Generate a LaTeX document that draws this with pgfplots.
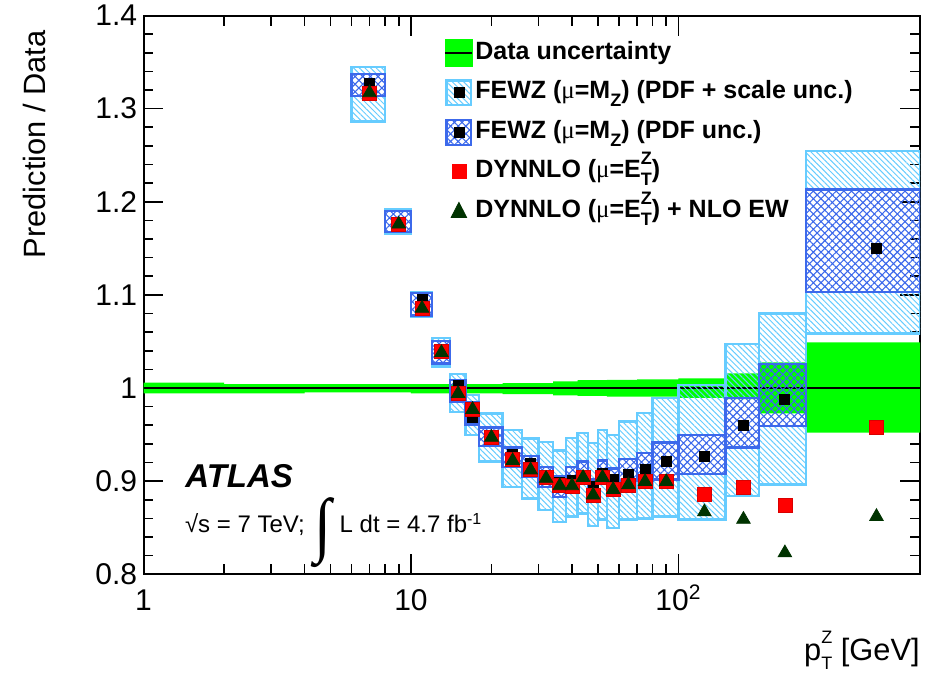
\documentclass[border=0pt]{standalone}
\usepackage{fontspec}
\setmainfont{Liberation Sans}
\newfontfamily\serifsym{Liberation Serif}
\usepackage{graphicx}
\usepackage{pgfplots}
\pgfplotsset{compat=1.18}
\usepackage{pgfplotstable}
\usepgfplotslibrary{fillbetween}
\usetikzlibrary{patterns.meta}

\definecolor{lblue}{RGB}{102,204,255}
\definecolor{dblue}{RGB}{60,105,235}
\definecolor{dgreen}{RGB}{0,51,0}
\definecolor{bandgreen}{RGB}{0,255,0}

\newcommand\lsub[1]{\raisebox{-0.6ex}{\fontsize{9}{9}\selectfont #1}}
\newcommand\lsupsub[2]{\rlap{\raisebox{1.0ex}{\fontsize{9}{9}\selectfont #1}}\raisebox{-0.6ex}{\fontsize{9}{9}\selectfont #2}}
\newcommand\umu{{\serifsym\mdseries μ}}

% FEWZ boxes: bin edges, PDF+scale band (llo,lhi), PDF band (dlo,dhi)
\pgfplotstableread{
xlo xhi llo lhi dlo dhi
6 8 1.286 1.345 1.3135 1.337
8 10 1.166 1.1915 1.1675 1.190
10 12 1.0765 1.103 1.078 1.102
12 14 1.023 1.054 1.0265 1.0505
14 16 0.974 1.015 0.985 1.0085
16 18 0.9495 0.9925 0.961 0.985
18 22 0.921 0.9725 0.9375 0.9575
22 26 0.894 0.955 0.915 0.936
26 30 0.8815 0.946 0.905 0.927
30 34 0.869 0.942 0.894 0.9155
34 38 0.856 0.933 0.883 0.9055
38 42 0.862 0.9465 0.896 0.9155
42 46 0.8655 0.952 0.8995 0.921
46 50 0.852 0.941 0.883 0.902
50 54 0.859 0.955 0.901 0.922
54 60 0.850 0.9495 0.894 0.9135
60 70 0.859 0.964 0.900 0.9235
70 80 0.860 0.9735 0.900 0.930
80 100 0.862 0.989 0.902 0.9415
100 150 0.859 1.003 0.9075 0.9495
150 200 0.884 1.047 0.936 0.9895
200 300 0.8965 1.080 0.959 1.0257
300 800 1.0586 1.2545 1.1032 1.213
}\boxes

% central values
\pgfplotstableread{
x fewz dyn dynew
7 1.327 1.317 1.317
9 1.178 1.1755 1.176
11 1.095 1.0855 1.0855
13 1.040 1.039 1.038
15 1.0031 0.9945 0.994
17 0.968 0.977 0.977
20 0.948 0.9475 0.947
24 0.929 0.923 0.922
28 0.919 0.9125 0.912
32 0.905 0.904 0.903
36 0.899 0.896 0.895
40 0.901 0.895 0.895
44 0.905 0.904 0.904
48 0.8944 0.885 0.885
52 0.908 0.904 0.904
57 0.902 0.8915 0.891
65 0.9075 0.896 0.896
75 0.9125 0.8995 0.8995
90 0.9215 0.8995 0.8995
125 0.927 0.886 0.867
175 0.960 0.893 0.859
250 0.9877 0.8745 0.823
550 1.1498 0.9577 0.862
}\points

% data uncertainty band (steps)
\pgfplotstableread{
x hi lo
1 1.0057 0.9942
2 1.0043 0.9942
4 1.0043 0.9953
10 1.0043 0.9942
22 1.0054 0.9936
34 1.0071 0.9921
42 1.0086 0.9915
54 1.0089 0.9907
70 1.0093 0.9907
100 1.0105 0.9895
150 1.0157 0.988
200 1.0275 0.9727
300 1.049 0.952
800 1.049 0.952
}\band

\pgfplotstablegetrowsof{\boxes}
\pgfmathtruncatemacro{\nb}{\pgfplotsretval-1}

\newcommand\getbox[1]{%
 \pgfplotstablegetelem{#1}{xlo}\of\boxes \let\xa\pgfplotsretval
 \pgfplotstablegetelem{#1}{xhi}\of\boxes \let\xb\pgfplotsretval
 \pgfplotstablegetelem{#1}{llo}\of\boxes \let\la\pgfplotsretval
 \pgfplotstablegetelem{#1}{lhi}\of\boxes \let\lb\pgfplotsretval
 \pgfplotstablegetelem{#1}{dlo}\of\boxes \let\da\pgfplotsretval
 \pgfplotstablegetelem{#1}{dhi}\of\boxes \let\db\pgfplotsretval}

\tikzset{
 lhatch/.style={draw=none, pattern={Lines[angle=-45,distance=2pt,line width=0.5pt]}, pattern color=lblue},
 lbox/.style={draw=lblue, line width=1.2pt, fill=none},
 dbox/.style={draw=dblue, line width=1.2pt, pattern={Hatch[angle=45,distance=2.7pt,line width=0.55pt]}, pattern color=dblue},
}

\begin{document}
\begin{tikzpicture}
\begin{axis}[
 scale only axis, width=388.25pt, height=279.4pt,
 xmode=log, xmin=1, xmax=800, ymin=0.8, ymax=1.4,
 xtick={1,10,100}, xticklabels={1,10,10\textsuperscript{2}},
 ytick={0.8,0.9,1,1.1,1.2,1.3,1.4}, yticklabels={0.8,0.9,1,1.1,1.2,1.3,1.4},
 minor y tick num=4,
 tick align=inside, major tick length=10pt, minor tick length=5pt,
 axis line style={line width=1pt}, tick style={line width=0.8pt, black},
 tick label style={font=\fontsize{15}{18}\selectfont},
 xticklabel style={anchor=base, yshift=-17.85pt, inner sep=0pt},
 yticklabel style={inner sep=0pt, xshift=-3pt},
 label style={font=\fontsize{15.4}{18}\selectfont},
 xlabel={p\lsupsub{Z}{T} [GeV]},
 xlabel style={at={(axis description cs:1,-0.1534)}, anchor=base east, inner sep=0pt},
 ylabel={Prediction / Data},
 ylabel style={at={(axis description cs:-0.1256,0.974)}, anchor=base east, inner sep=0pt},
 legend style={at={(axis description cs:0.387,0.958)}, anchor=north west, draw=none, fill=none,
   font=\fontsize{12.5}{15}\selectfont\bfseries, row sep=5.75pt, inner sep=0pt,
   nodes={inner sep=1pt, text height=9pt, text depth=3pt}},
 legend cell align=left,
]
\coordinate (O) at (rel axis cs:0,0);

% data uncertainty band
\addplot[name path=bu, const plot, draw=none, forget plot] table[x=x,y=hi]{\band};
\addplot[name path=bl, const plot, draw=none, forget plot] table[x=x,y=lo]{\band};
\addplot[bandgreen, forget plot] fill between[of=bu and bl];
\addplot[black, line width=0.9pt, forget plot] coordinates {(1,1) (800,1)};

% FEWZ PDF+scale hatch (outside the PDF band)
\pgfplotsforeachungrouped \i in {0,...,\nb}{%
 \getbox{\i}%
 \edef\temp{%
  \noexpand\addplot[forget plot, lhatch] coordinates {(\xa,\db) (\xb,\db) (\xb,\lb) (\xa,\lb)} -- cycle;
  \noexpand\addplot[forget plot, lhatch] coordinates {(\xa,\la) (\xb,\la) (\xb,\da) (\xa,\da)} -- cycle;
 }\temp
}
% FEWZ PDF+scale outlines
\pgfplotsforeachungrouped \i in {0,...,\nb}{%
 \getbox{\i}%
 \edef\temp{%
  \noexpand\addplot[forget plot, lbox] coordinates {(\xa,\la) (\xb,\la) (\xb,\lb) (\xa,\lb)} -- cycle;
 }\temp
}
% FEWZ PDF boxes
\pgfplotsforeachungrouped \i in {0,...,\nb}{%
 \getbox{\i}%
 \edef\temp{%
  \noexpand\addplot[forget plot, dbox] coordinates {(\xa,\da) (\xb,\da) (\xb,\db) (\xa,\db)} -- cycle;
 }\temp
}

% central values
\addplot[forget plot, only marks, mark=square*, mark size=2.5pt, black] table[x=x,y=fewz]{\points};
\addplot[forget plot, only marks, mark=square*, mark size=3.5pt, red, mark options={draw=red!85!black, line width=0.3pt}] table[x=x,y=dyn]{\points};
\addplot[forget plot, only marks, mark=triangle*, mark size=3.9pt, dgreen] table[x=x,y=dynew]{\points};

% legend
\addlegendimage{legend image code/.code={\fill[bandgreen] (0pt,-6.75pt) rectangle (13.5pt,6.75pt); \draw[black,line width=1pt] (0pt,0pt) -- (13.5pt,0pt);}}
\addlegendentry{Data uncertainty}
\addlegendimage{legend image code/.code={\draw[lblue,line width=1.2pt,pattern={Lines[angle=-45,distance=2pt,line width=0.5pt]},pattern color=lblue] (0.6pt,-6.2pt) rectangle (12.9pt,6.2pt); \fill[black] (4.25pt,-2.5pt) rectangle (9.25pt,2.5pt);}}
\addlegendentry{FEWZ (\umu=M\lsub{Z}) (PDF + scale unc.)}
\addlegendimage{legend image code/.code={\draw[dblue,line width=1.2pt,pattern={Hatch[angle=45,distance=2.7pt,line width=0.55pt]},pattern color=dblue] (0.6pt,-6.2pt) rectangle (12.9pt,6.2pt); \fill[black] (4.25pt,-2.5pt) rectangle (9.25pt,2.5pt);}}
\addlegendentry{FEWZ (\umu=M\lsub{Z}) (PDF unc.)}
\addlegendimage{legend image code/.code={\fill[red] (3.25pt,-3.5pt) rectangle (10.25pt,3.5pt);}}
\addlegendentry{DYNNLO (\umu=E\lsupsub{Z}{T})}
\addlegendimage{legend image code/.code={\fill[dgreen] (2.9pt,-3pt) -- (10.6pt,-3pt) -- (6.75pt,4.5pt) -- cycle;}}
\addlegendentry{DYNNLO (\umu=E\lsupsub{Z}{T}) + NLO EW}

\node[anchor=base west, inner sep=0pt, font=\fontsize{16.5}{20}\selectfont\bfseries\itshape] at (axis description cs:0.0534,0.155) {ATLAS};
\node[anchor=base west, inner sep=0pt, font=\fontsize{12}{14}\selectfont] at (axis description cs:0.053,0.074)
 {√s = 7 TeV;\hspace{5pt}\raisebox{-17.5pt}{\resizebox{8.5pt}{35pt}{\raisebox{\depth}{\serifsym ∫}}}\hspace{4pt}L dt = 4.7 fb\textsuperscript{-1}};
\end{axis}
\pgfresetboundingbox
\path (O) ++(-71.75pt,-50.85pt) rectangle ++(473pt,338pt);
\end{tikzpicture}
\end{document}
